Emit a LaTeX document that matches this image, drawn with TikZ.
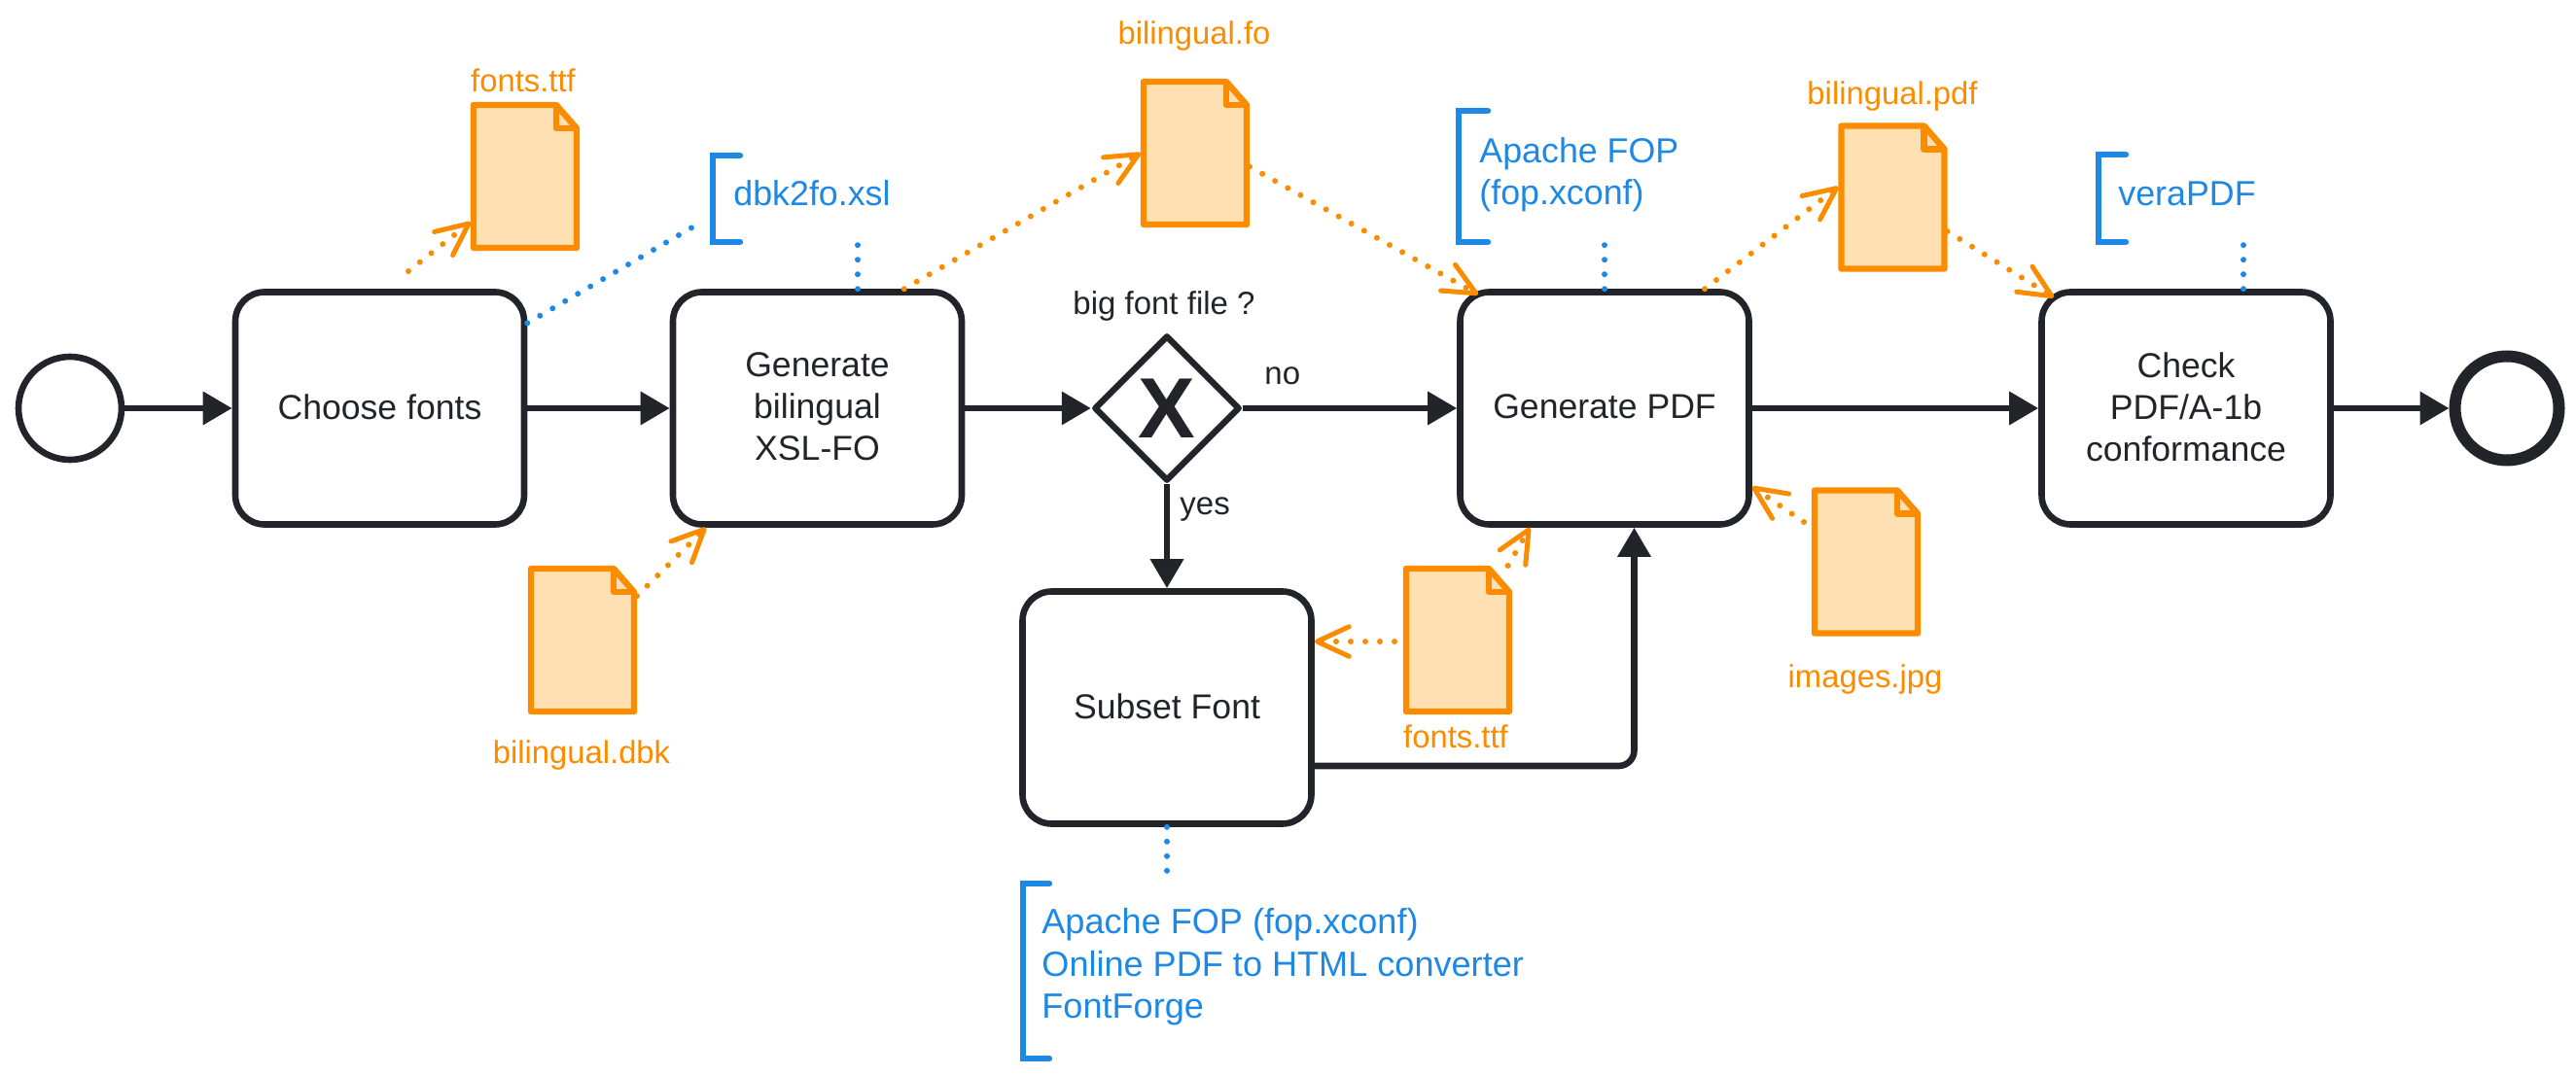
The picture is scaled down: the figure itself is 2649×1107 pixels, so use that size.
\documentclass[tikz,border=0pt]{standalone}
\usepackage{fontspec}
\setmainfont{Liberation Sans}
\usetikzlibrary{arrows.meta,shapes.geometric}
\definecolor{flowink}{HTML}{22242A}
\definecolor{fileink}{HTML}{FB8C00}
\definecolor{filefill}{HTML}{FFE0B2}
\definecolor{toolink}{HTML}{1E88E5}
\tikzset{
	flowline/.style={draw=flowink, line width=3.3pt, -{Triangle[length=15pt,width=16.5pt]}},
	taskbox/.style={draw=flowink, line width=3.3pt, rounded corners=15pt, minimum width=148.5pt, minimum height=119.5pt, inner sep=0pt, align=center, text=flowink, text depth=1.5pt, font=\fontsize{17.8}{21.5}\selectfont},
	fileline/.style={draw=fileink, line width=3.2pt, line join=round},
	filebox/.style={line width=3pt, inner sep=0pt, minimum width=53pt, minimum height=73.5pt},
	filelabel/.style={text=fileink, inner sep=0pt, anchor=base, font=\fontsize{16.4}{20}\selectfont},
	filelink/.style={draw=fileink, line width=3pt, line cap=round, dash pattern=on 0pt off 7.5pt, -{Straight Barb[round,length=16.5pt,width=15.3pt,line width=2.5pt]}},
	toollink/.style={draw=toolink, line width=3pt, line cap=round, dash pattern=on 0pt off 7.5pt},
	toolline/.style={draw=toolink, line width=3.2pt, line cap=round, line join=miter},
	toollabel/.style={text=toolink, inner sep=0pt, align=left, font=\fontsize{17.9}{21.75}\selectfont},
	flowlabel/.style={text=flowink, inner sep=0pt, anchor=base west, font=\fontsize{16.5}{20}\selectfont}
}
\def\docfile(#1)(#2){
	\node[filebox] (#1) at (#2) {};
	\draw[fileline, fill=filefill, shift={(#2)}] (-53, -73.5) -- (32, -73.5) -- (53, -49.5) -- (53, 73.5) -- (-53, 73.5) -- cycle;
	\draw[fileline, shift={(#2)}] (32, -73.5) -- (32, -49.5) -- (53, -49.5);
}
\def\toolbar(#1,#2,#3,#4){\draw[toolline] (#4, #2) -- (#1, #2) -- (#1, #3) -- (#4, #3);}
\begin{document}
\begin{tikzpicture}[x=0.5pt, y=-0.5pt]
			%%%%% START %%%%%
			\useasboundingbox (0, 0) rectangle (2649, 1107);
			
			\node[circle, draw=flowink, line width=3.3pt, minimum size=53pt, inner sep=0pt] (start) at (72, 420) {};
			\node[circle, draw=flowink, line width=6pt, minimum size=53.5pt, inner sep=0pt] (finish) at (2578, 420) {};
			
			\node[taskbox] (choose) at (390.5, 420) {Choose fonts};
			\node[taskbox] (generate) at (840.5, 420) {Generate\\bilingual\\XSL-FO};
			\node[taskbox] (subset) at (1200, 728) {Subset Font};
			\node[taskbox] (pdf) at (1650, 420) {Generate PDF};
			\node[taskbox] (check) at (2248, 420) {Check\\PDF/A-1b\\conformance};
			
			\node[diamond, draw=flowink, line width=3.2pt, line join=round, minimum width=75pt, minimum height=75pt, inner sep=0pt, text=flowink, font=\fontsize{44}{44}\bfseries\selectfont] (bigfont) at (1200, 420) {X};
			
			\node[flowlabel, anchor=base] (bigfontlabel) at (1197, 323) {big font file ?};
			\node[flowlabel] (nolabel) at (1300, 395) {no};
			\node[flowlabel] (yeslabel) at (1213, 529) {yes};
			
			\draw[flowline] (start) -- (choose);
			\draw[flowline] (choose) -- (generate);
			\draw[flowline] (generate) -- (bigfont);
			\draw[flowline] (bigfont) -- (pdf);
			\draw[flowline] (bigfont) -- (subset);
			\draw[flowline] (pdf) -- (check);
			\draw[flowline] (check) -- (finish);
			\coordinate (subsetout) at (1680.5, 788);
			\draw[flowline, rounded corners=8pt] (subset.east |- subsetout) -- (subsetout) -- (subsetout |- pdf.south);
			
			\docfile(fontsup)(540, 181.5)
			\docfile(dbkfile)(599, 658.5)
			\docfile(fofile)(1229, 157.5)
			\docfile(fontsdown)(1499, 658.5)
			\docfile(pdffile)(1946.5, 203)
			\docfile(jpgfile)(1919, 578)
			
			\node[filelabel] (fontsuplabel) at (538, 95) {fonts.ttf};
			\node[filelabel] (dbklabel) at (598, 785) {bilingual.dbk};
			\node[filelabel] (folabel) at (1228, 46) {bilingual.fo};
			\node[filelabel] (fontsdownlabel) at (1497, 769) {fonts.ttf};
			\node[filelabel] (pdflabel) at (1946, 107.5) {bilingual.pdf};
			\node[filelabel] (jpglabel) at (1918, 707) {images.jpg};
			
			\coordinate (fontstail) at (420, 279);
			\coordinate (jpgtail) at (1855, 537);
			\coordinate (fontsleft) at (1434, 660);
			\coordinate (foin) at (1520, 303);
			\coordinate (checkin) at (2112, 306);
			
			\draw[filelink] (fontstail) -- (fontsup.220);
			\draw[filelink] (dbkfile.39) -- (generate.227);
			\draw[filelink] (generate.54) -- (fofile.west);
			\draw[filelink] (fofile.346) -- (foin);
			\draw[filelink] (fontsdown.56) -- (pdf.238);
			\draw[filelink] (fontsleft) -- (fontsleft -| subset.east);
			\draw[filelink] (jpgtail) -- (pdf.332);
			\draw[filelink] (pdf.50) -- (pdffile.169);
			\draw[filelink] (pdffile.328) -- (checkin);
			
			\toolbar(733,160,249,761)
			\node[toollabel, anchor=base west] (dbktool) at (754, 211.5) {dbk2fo.xsl};
			\toolbar(1500,114,249,1530)
			\node[toollabel, anchor=west] (foptool) at (1521, 179.5) {Apache FOP\\(fop.xconf)};
			\toolbar(2158,159,249,2186)
			\node[toollabel, anchor=base west] (veratool) at (2178, 211.5) {veraPDF};
			\toolbar(1052,909,1089,1079)
			\node[toollabel, anchor=west, font=\fontsize{18.05}{21.75}\selectfont] (subsettool) at (1071, 995) {Apache FOP (fop.xconf)\\Online PDF to HTML converter\\FontForge};
			
			\coordinate (dbktail) at (722, 228);
			\coordinate (gendot) at (882, 252);
			\coordinate (pdfdot) at (1650, 252);
			\coordinate (checkdot) at (2307, 252);
			\coordinate (subsetdot) at (1200, 896);
			
			\draw[toollink] (choose.30) -- (dbktail);
			\draw[toollink] (gendot |- generate.north) -- (gendot);
			\draw[toollink] (pdfdot |- pdf.north) -- (pdfdot);
			\draw[toollink] (checkdot |- check.north) -- (checkdot);
			\draw[toollink] (subset.south) -- (subsetdot);
			
			%%%%% END %%%%%
\end{tikzpicture}
\end{document}
